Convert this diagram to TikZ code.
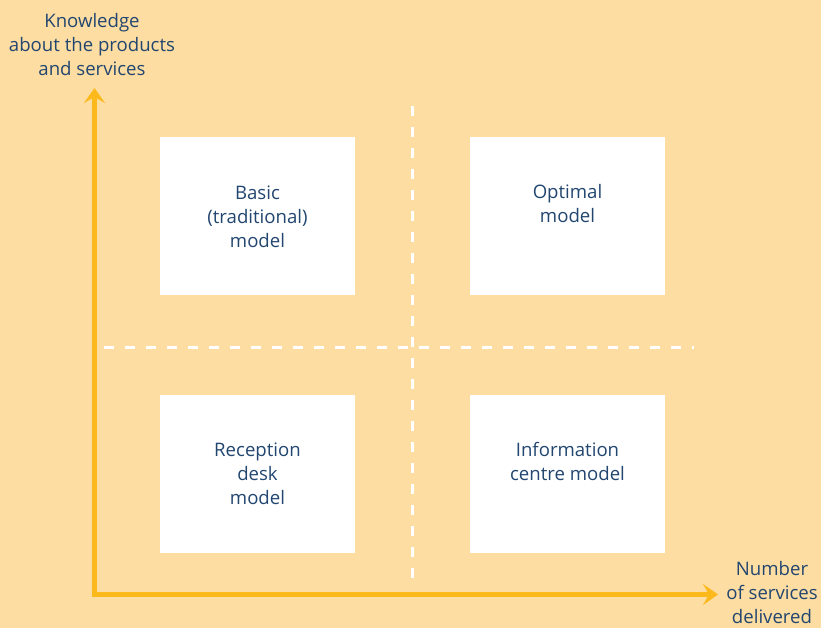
\documentclass[tikz,border=0pt]{standalone}
\usepackage{fontspec}
\setmainfont{Open Sans}
\usepackage{xcolor}
\usetikzlibrary{positioning,arrows.meta}
\definecolor{paper}{RGB}{253,221,161}
\definecolor{axisorange}{RGB}{252,185,27}
\definecolor{inkblue}{RGB}{34,70,112}
\tikzset{
  quadbox/.style={fill=white, draw=none, minimum width=195pt, minimum height=158pt, inner sep=0pt},
  boxtext/.style={text=inkblue, align=center, inner sep=0pt, font=\fontsize{18.6}{24}\selectfont},
  axisline/.style={draw=axisorange, line width=5pt, -{Stealth[length=15pt, width=21pt, inset=6pt]}},
  divider/.style={draw=white, line width=3pt, dash pattern=on 10pt off 11pt}
}
\begin{document}
\begin{tikzpicture}[x=1pt, y=-1pt]
    % Background
    \fill[paper] (0,0) rectangle (821,628);
    \useasboundingbox (0,0) rectangle (821,628);
    % Dividers
    \coordinate (vtop) at (412.5,106); \coordinate (vbot) at (412.5,588);
    \coordinate (hleft) at (104,347); \coordinate (hright) at (694,347);
    \draw[divider] (vtop) -- (vbot);
    \draw[divider] (hleft) -- (hright);
    % Quadrants
    \node[quadbox] (basic) at (257.5,216) {};
    \node[quadbox] (optimal) at (567.5,216) {};
    \node[quadbox] (reception) at (257.5,473.5) {};
    \node[quadbox] (info) at (567.5,473.5) {};
    \node[boxtext, below=49pt of basic.north] (basictxt) {Basic\\(traditional)\\model};
    \node[boxtext, below=47pt of optimal.north] (optimaltxt) {Optimal\\model};
    \node[boxtext, below=48pt of reception.north] (receptiontxt) {Reception\\desk\\model};
    \node[boxtext, below=48pt of info.north] (infotxt) {Information\\centre model};
    % Axes
    \coordinate (origin) at (94.5,594.5);
    \coordinate (ytip) at (94.5,88);
    \coordinate (xtip) at (718,594.5);
    \draw[axisline] ([yshift=2.5pt]origin) -- (ytip);
    \draw[axisline] ([xshift=-2.5pt]origin) -- (xtip);
    \node[boxtext, anchor=north] (ylabel) at (92,13) {Knowledge\\about the products\\and services};
    \node[boxtext, anchor=north] (xlabel) at (772,561) {Number\\of services\\delivered};
\end{tikzpicture}
\end{document}
